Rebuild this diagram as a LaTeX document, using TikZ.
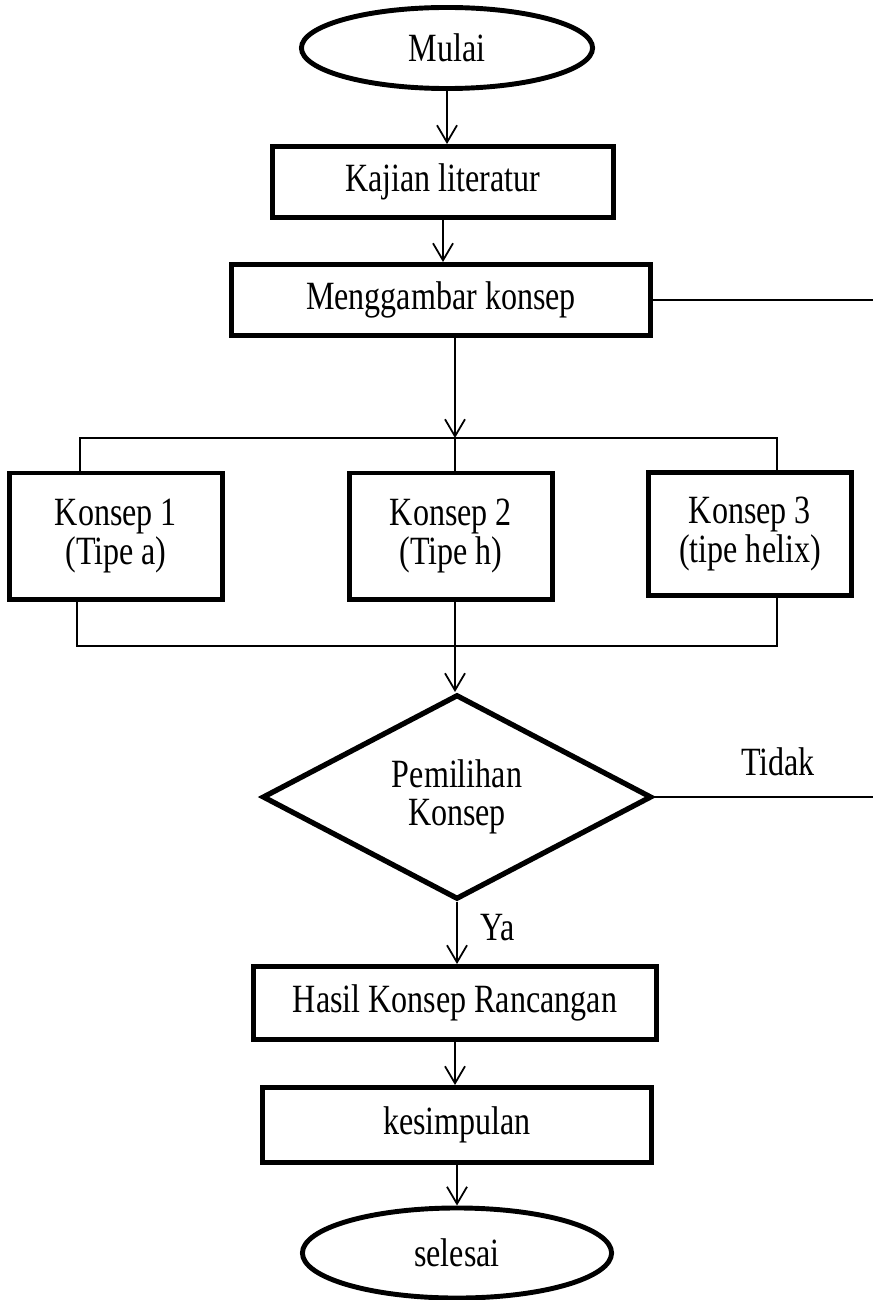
\documentclass[tikz,border=0pt]{standalone}
\usepackage{fontspec}
\setmainfont[FakeStretch=0.8]{Liberation Serif}
\usetikzlibrary{shapes.geometric}
\usetikzlibrary{arrows.meta,positioning}

\begin{document}
\begin{tikzpicture}[x=0.01cm,y=-0.01cm,font=\fontsize{11.4}{10.9}\selectfont]
	\tikzstyle{kotak}=[rectangle,draw=black,line width=1.4pt,inner sep=0pt,align=center]
	\tikzstyle{oval}=[ellipse,draw=black,line width=1.4pt,inner sep=0pt]
	\tikzstyle{pilihan}=[diamond,draw=black,line width=1.5pt,inner sep=0pt,align=center]
	\tikzstyle{panah}=[line width=0.5pt,-{Straight Barb[length=0.17cm,width=0.2cm]}]
	\tikzstyle{garis}=[line width=0.5pt]

	\useasboundingbox (0,0) rectangle (873,1300);

	\node [oval,minimum width=2.91cm,minimum height=0.81cm] (mulai) at (447,48) {Mulai};
	\node [kotak,minimum width=3.40cm,minimum height=0.71cm] (kajian) at (443,182) {Kajian literatur};
	\node [kotak,minimum width=4.19cm,minimum height=0.71cm] (konsep) at (441,300) {Menggambar konsep};

	\node [kotak,minimum width=2.13cm,minimum height=1.26cm] (k1) at (116,536) {Konsep 1\\(Tipe a)};
	\node [kotak,minimum width=2.03cm,minimum height=1.26cm] (k2) at (451,536) {Konsep 2\\(Tipe h)};
	\node [kotak,minimum width=2.03cm,minimum height=1.23cm] (k3) at (750,534) {Konsep 3\\(tipe helix)};

	\node [pilihan,minimum width=3.89cm,minimum height=1.97cm] (pilih) at (457,797) {Pemilihan\\Konsep};
	\node [kotak,minimum width=4.02cm,minimum height=0.73cm] (hasil) at (455,1003) {Hasil Konsep Rancangan};
	\node [kotak,minimum width=3.89cm,minimum height=0.75cm] (simpul) at (457,1125) {kesimpulan};
	\node [oval,minimum width=3.09cm,minimum height=0.90cm] (selesai) at (457,1253) {selesai};

	\node (tidak) at (778,762) {Tidak};
	\node (ya) at (498,928) {Ya};

	\coordinate (b1) at (455,438);
	\coordinate (tl) at (80,438);
	\coordinate (tr) at (777,438);
	\coordinate (b2) at (455,646);
	\coordinate (bl) at (77,646);
	\coordinate (br) at (777,646);
	\coordinate (kanan) at (873,0);

	\draw [panah] (mulai.south) -- (mulai.south |- kajian.north);
	\draw [panah] (kajian.south) -- (kajian.south |- konsep.north);
	\draw [panah] (konsep.south -| b1) -- (b1);

	\draw [garis] (k1.north -| tl) -- (tl) -- (tr) -- (k3.north -| tr);
	\draw [garis] (b1) -- (k2.north -| b1);
	\draw [garis] (k1.south -| bl) -- (bl) -- (br) -- (k3.south -| br);
	\draw [garis] (k2.south -| b2) -- (b2);
	\draw [panah] (b2) -- (b2 |- pilih.north);

	\draw [panah] (pilih.south) -- (pilih.south |- hasil.north);
	\draw [panah] (hasil.south) -- (hasil.south |- simpul.north);
	\draw [panah] (simpul.south) -- (simpul.south |- selesai.north);

	\draw [garis] (konsep.east) -- (konsep.east -| kanan);
	\draw [garis] (pilih.east) -- (pilih.east -| kanan);
\end{tikzpicture}
\end{document}
